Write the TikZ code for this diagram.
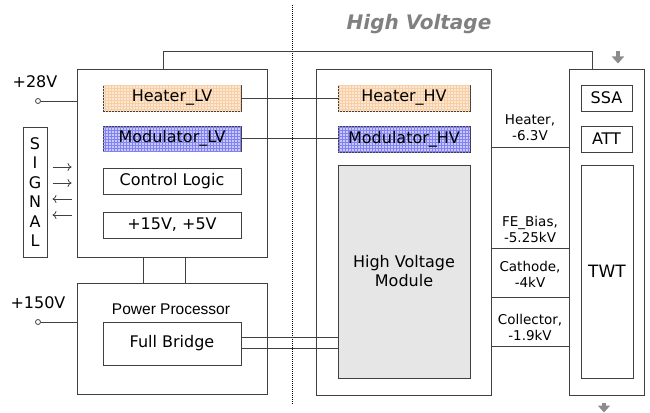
\documentclass[tikz,border=0pt]{standalone}
\usepackage{fontspec}
\setmainfont{DejaVu Sans}
\newfontfamily\ppfont{Liberation Sans}
\usepackage{tikz}
\usetikzlibrary{positioning,patterns,arrows.meta}
\tikzset{node distance=2.0cm, auto}
\definecolor{heaterbg}{RGB}{252,232,210}
\definecolor{heaterln}{RGB}{248,206,166}
\definecolor{modbg}{RGB}{200,200,252}
\definecolor{modln}{RGB}{130,130,240}
\definecolor{hvmgray}{RGB}{230,230,230}
\definecolor{linegray}{RGB}{64,64,64}
\tikzset{
  blk/.style={draw=linegray, line width=1pt, inner sep=0pt, font=\fontsize{16}{19}\selectfont},
  heat/.style={blk, fill=heaterbg, postaction={pattern=grid, pattern color=heaterln}},
  modul/.style={blk, fill=modbg, postaction={pattern=grid, pattern color=modln}},
  lbl/.style={font=\fontsize{13.5}{15.5}\selectfont, align=center, inner sep=0pt},
  wire/.style={draw=linegray, line width=1pt},
  term/.style={circle, draw=linegray, line width=0.8pt, fill=white, inner sep=0pt, minimum size=5pt},
  sig/.style={draw=linegray, line width=0.8pt, -{To[length=4pt,width=8pt]}},
  garrow/.style={draw=black!45, line width=4pt, -{Triangle[width=12pt,length=7pt]}}
}
\begin{document}
\begin{tikzpicture}[x=1pt, y=-1pt]
\useasboundingbox (0,0) rectangle (650,412);
\node[font=\bfseries\itshape\fontsize{20}{24}\selectfont, text=black!50] (hvtitle) at (419,24) {High Voltage};
\coordinate (divtop) at (292,5);
\coordinate (divbot) at (292,405);
\draw[densely dotted, line width=1pt] (divtop) -- (divbot);

% low voltage side
\node[blk, minimum width=190pt, minimum height=188pt] (lv) at (172,163) {};
\node[heat, minimum width=138pt, minimum height=26pt] (heaterlv) at (172,98) {Heater\_LV};
\node[modul, minimum width=138pt, minimum height=25pt] (modlv) at (172,138.5) {Modulator\_LV};
\node[blk, minimum width=138pt, minimum height=26pt] (ctrl) at (172,181) {Control Logic};
\node[blk, minimum width=138pt, minimum height=26pt] (supply) at (172,225) {+15V, +5V};
\node[blk, minimum width=24pt, minimum height=130pt, align=center, font=\fontsize{16}{19.5}\selectfont] (signal) at (35,192) {S\\I\\G\\N\\A\\L};
\node[blk, minimum width=190pt, minimum height=111pt] (power) at (172,338.5) {};
\node[font=\ppfont\fontsize{15.5}{18}\selectfont] (pptext) at (171,309) {Power Processor};
\node[blk, minimum width=138pt, minimum height=43pt] (bridge) at (172,343.5) {Full Bridge};

\node[term] (p28) at (38,101) {};
\node[font=\fontsize{16}{19}\selectfont] (l28) at (35,82) {+28V};
\node[term] (p150) at (38,322) {};
\node[font=\fontsize{16}{19}\selectfont] (l150) at (38,303) {+150V};

% high voltage side
\node[blk, minimum width=175pt, minimum height=326pt] (hv) at (403.5,232) {};
\node[heat, minimum width=132pt, minimum height=26pt] (heaterhv) at (404,98) {Heater\_HV};
\node[modul, minimum width=132pt, minimum height=26pt] (modhv) at (404,139) {Modulator\_HV};
\node[blk, fill=hvmgray, minimum width=132pt, minimum height=213pt, align=center] (hvm) at (404,271.5) {High Voltage\\Module};

\node[blk, minimum width=75pt, minimum height=326pt] (twtbox) at (606.5,232) {};
\node[blk, minimum width=51pt, minimum height=26pt] (ssa) at (606.5,98) {SSA};
\node[blk, minimum width=51pt, minimum height=26pt] (att) at (606.5,139) {ATT};
\node[blk, minimum width=52pt, minimum height=213pt, font=\fontsize{17}{20}\selectfont] (twt) at (607,271.5) {TWT};

\node[lbl] (lheat) at (530,127.5) {Heater,\\-6.3V};
\node[lbl] (lbias) at (530,229.5) {FE\_Bias,\\-5.25kV};
\node[lbl] (lcath) at (530,274.5) {Cathode,\\-4kV};
\node[lbl] (lcoll) at (530,327.5) {Collector,\\-1.9kV};

% connections
\draw[wire] (p28) -- (p28 -| lv.west);
\draw[wire] (p150) -- (p150 -| power.west);
\draw[wire] (heaterlv) -- (heaterhv);
\draw[wire] (modlv.east) -- (modlv.east -| modhv.west);
\draw[wire] ([xshift=-9pt]lv.north) -- ++(0,-17) -| ([xshift=-14.5pt]twtbox.north);
\draw[wire] ([xshift=-29pt]lv.south) -- ([xshift=-29pt]power.north);
\draw[wire] ([xshift=13pt]lv.south) -- ([xshift=13pt]power.north);
\draw[wire] ([yshift=6pt]bridge.east) -- ([yshift=6pt]bridge.east -| hvm.west);
\draw[wire] ([yshift=-5pt]bridge.east) -- ([yshift=-5pt]bridge.east -| hvm.west);
\foreach \y in {147,248,297,346}
  \draw[wire] (hv.east |- 0,\y) -- (twtbox.west |- 0,\y);
\foreach \y in {167,183}
  \draw[sig] ([xshift=5pt]signal.east |- 0,\y) -- ([xshift=-5pt]lv.west |- 0,\y);
\foreach \y in {199,215}
  \draw[sig] ([xshift=-5pt]lv.west |- 0,\y) -- ([xshift=5pt]signal.east |- 0,\y);
\draw[garrow, shorten >=5pt] ([xshift=11.5pt]twtbox.north) ++(0,-17) -- ([xshift=11.5pt]twtbox.north);
\draw[garrow, shorten <=7pt] ([xshift=-2.5pt]twtbox.south) -- ++(0,17);
\end{tikzpicture}
\end{document}
